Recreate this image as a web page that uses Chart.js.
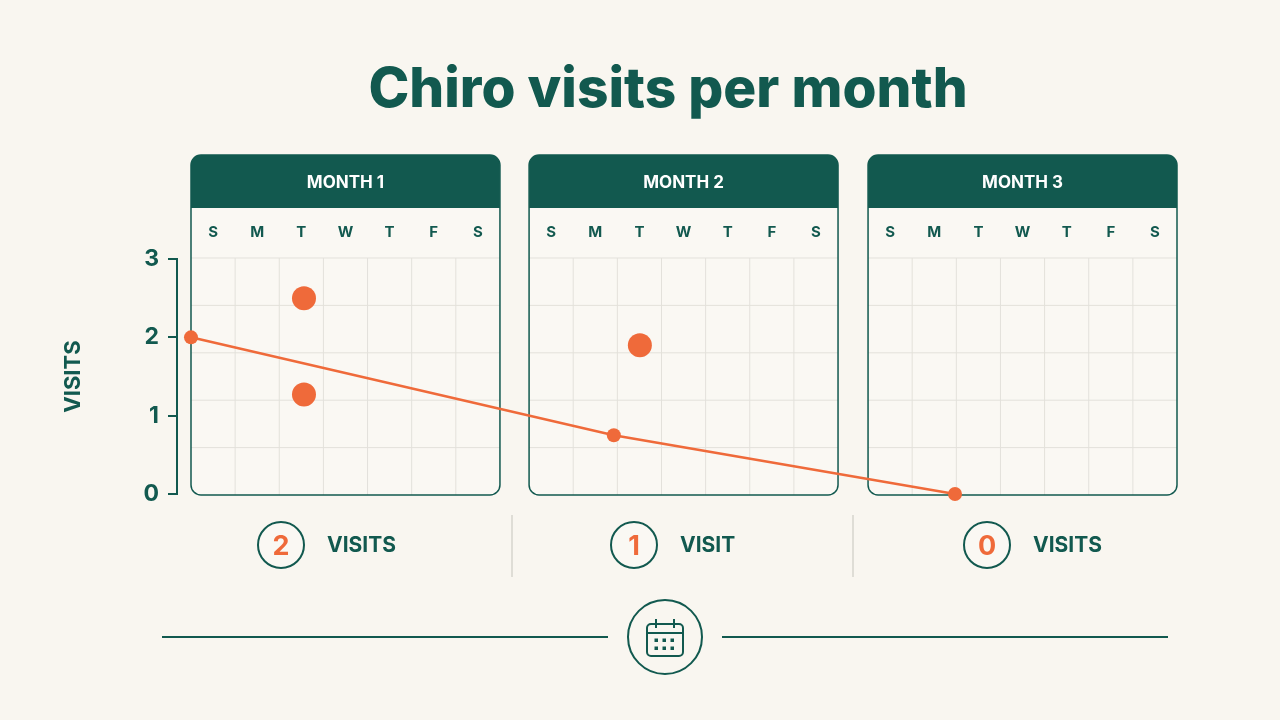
<!DOCTYPE html>
<html>
<head>
<meta charset="utf-8">
<script src="https://cdn.jsdelivr.net/npm/chart.js@4"></script>
<style>
  html, body { margin: 0; padding: 0; background: #f9f6f0; }
  #wrap { width: 1280px; height: 720px; position: relative; }
</style>
</head>
<body>
<div id="wrap"><canvas id="chart" width="1280" height="720"></canvas></div>
<script>
// Data (x in calendar-day units from the left edge of month 1)
const months = ['MONTH 1', 'MONTH 2', 'MONTH 3']
const monthStarts = [0, 7.66, 15.34]
const dayLetters = ['S', 'M', 'T', 'W', 'T', 'F', 'S']
const visitCounts = [2, 1, 0]
const trendX = [0, 9.58, 17.31]
const trendY = [2, 0.75, 0]
const visitX = [2.56, 2.56, 10.17]
const visitY = [2.5, 1.27, 1.9]
const yTicks = [0, 1, 2, 3]

const TEAL = '#12594f'
const ORANGE = '#ef6a3a'
const FONT = 'Inter, "DejaVu Sans", sans-serif'

const roundRect = function (ctx, x, y, w, h, r) {
  ctx.beginPath()
  ctx.moveTo(x + r, y)
  ctx.arcTo(x + w, y, x + w, y + h, r)
  ctx.arcTo(x + w, y + h, x, y + h, r)
  ctx.arcTo(x, y + h, x, y, r)
  ctx.arcTo(x, y, x + w, y, r)
  ctx.closePath()
}

const decor = {
  id: 'decor',
  beforeDatasetsDraw (chart) {
    const ctx = chart.ctx
    const xs = chart.scales.x
    const ys = chart.scales.y
    const top = 155
    const headBottom = 208
    const gridTop = ys.getPixelForValue(3) - 1
    const bottom = ys.getPixelForValue(0) + 1
    ctx.save()
    ctx.textAlign = 'center'
    ctx.textBaseline = 'middle'

    // Title
    ctx.fillStyle = TEAL
    ctx.font = '800 55px ' + FONT
    ctx.fillText('Chiro visits per month', 668, 90)

    months.forEach((m, i) => {
      const x0 = xs.getPixelForValue(monthStarts[i])
      const x1 = xs.getPixelForValue(monthStarts[i] + 7)
      const w = x1 - x0
      // panel body
      roundRect(ctx, x0, top, w, bottom - top, 10)
      ctx.fillStyle = '#faf8f3'
      ctx.fill()
      // grid
      ctx.strokeStyle = '#e3e1db'
      ctx.lineWidth = 1
      for (let d = 1; d < 7; d++) {
        const x = xs.getPixelForValue(monthStarts[i] + d)
        ctx.beginPath(); ctx.moveTo(x, gridTop); ctx.lineTo(x, bottom); ctx.stroke()
      }
      for (let r = 0; r < 5; r++) {
        const y = gridTop + r * (bottom - gridTop) / 5
        ctx.beginPath(); ctx.moveTo(x0, y); ctx.lineTo(x1, y); ctx.stroke()
      }
      // header
      ctx.save()
      roundRect(ctx, x0, top, w, bottom - top, 10)
      ctx.clip()
      ctx.fillStyle = TEAL
      ctx.fillRect(x0, top, w, headBottom - top)
      ctx.restore()
      ctx.fillStyle = '#ffffff'
      ctx.font = '700 17px ' + FONT
      ctx.fillText(m, x0 + w / 2, 183)
      // day letters
      ctx.fillStyle = TEAL
      ctx.font = '700 15px ' + FONT
      dayLetters.forEach((d, k) => {
        ctx.fillText(d, xs.getPixelForValue(monthStarts[i] + k + 0.5), 232)
      })
      // border
      roundRect(ctx, x0, top, w, bottom - top, 10)
      ctx.strokeStyle = TEAL
      ctx.lineWidth = 1.5
      ctx.stroke()
    })

    // summary row
    const sumX = [281, 634, 987]
    sumX.forEach((cx, i) => {
      ctx.beginPath()
      ctx.arc(cx, 545, 23, 0, Math.PI * 2)
      ctx.fillStyle = '#faf8f3'
      ctx.fill()
      ctx.strokeStyle = TEAL
      ctx.lineWidth = 2
      ctx.stroke()
      ctx.fillStyle = ORANGE
      ctx.font = '700 27px ' + FONT
      ctx.textAlign = 'center'
      ctx.fillText(String(visitCounts[i]), cx, 547)
      ctx.fillStyle = TEAL
      ctx.font = '700 21px ' + FONT
      ctx.textAlign = 'left'
      ctx.fillText(visitCounts[i] === 1 ? 'VISIT' : 'VISITS', cx + 46, 546)
    })
    ctx.strokeStyle = '#d6d4ce'
    ctx.lineWidth = 1.5
    ;[512, 853].forEach(x => {
      ctx.beginPath(); ctx.moveTo(x, 515); ctx.lineTo(x, 577); ctx.stroke()
    })

    // bottom rule with calendar icon
    ctx.strokeStyle = TEAL
    ctx.lineWidth = 2
    ctx.beginPath(); ctx.moveTo(162, 637); ctx.lineTo(608, 637); ctx.stroke()
    ctx.beginPath(); ctx.moveTo(722, 637); ctx.lineTo(1168, 637); ctx.stroke()
    ctx.beginPath(); ctx.arc(665, 637, 37, 0, Math.PI * 2); ctx.stroke()
    roundRect(ctx, 647, 624, 36, 32, 4)
    ctx.stroke()
    ctx.beginPath(); ctx.moveTo(647, 633); ctx.lineTo(683, 633); ctx.stroke()
    ctx.beginPath(); ctx.moveTo(656, 619); ctx.lineTo(656, 628); ctx.moveTo(674, 619); ctx.lineTo(674, 628); ctx.stroke()
    ctx.fillStyle = TEAL
    for (let r = 0; r < 2; r++) {
      for (let c = 0; c < 3; c++) ctx.fillRect(656 + c * 8 - 1.5, 640 + r * 8 - 1.5, 3.5, 3.5)
    }
    ctx.restore()
  }
}

new Chart(document.getElementById('chart'), {
  type: 'scatter',
  data: {
    datasets: [
      {
        type: 'line',
        data: trendX.map((x, i) => ({ x, y: trendY[i] })),
        borderColor: ORANGE,
        backgroundColor: ORANGE,
        borderWidth: 2.5,
        pointRadius: 7,
        pointBorderWidth: 0,
        clip: false
      },
      {
        data: visitX.map((x, i) => ({ x, y: visitY[i] })),
        backgroundColor: ORANGE,
        pointRadius: 12,
        pointBorderWidth: 0,
        clip: false
      }
    ]
  },
  plugins: [decor],
  options: {
    responsive: false,
    animation: false,
    layout: { padding: { left: 0, right: 103, top: 259, bottom: 226 } },
    plugins: { legend: { display: false }, tooltip: { enabled: false } },
    scales: {
      x: { type: 'linear', min: -14 / 44.14, max: 22.34, display: false },
      y: {
        min: 0,
        max: 3,
        afterFit (s) { s.width = 177 },
        afterBuildTicks (s) { s.ticks = yTicks.map(v => ({ value: v })) },
        border: { color: TEAL, width: 2 },
        grid: { drawOnChartArea: false, color: TEAL, tickLength: 9, lineWidth: 2 },
        ticks: { color: TEAL, font: { family: FONT, size: 23, weight: '700' }, padding: 9 },
        title: { display: true, text: 'VISITS', color: TEAL, font: { family: FONT, size: 22, weight: '700' }, padding: { top: 60 } }
      }
    }
  }
})
</script>
</body>
</html>
